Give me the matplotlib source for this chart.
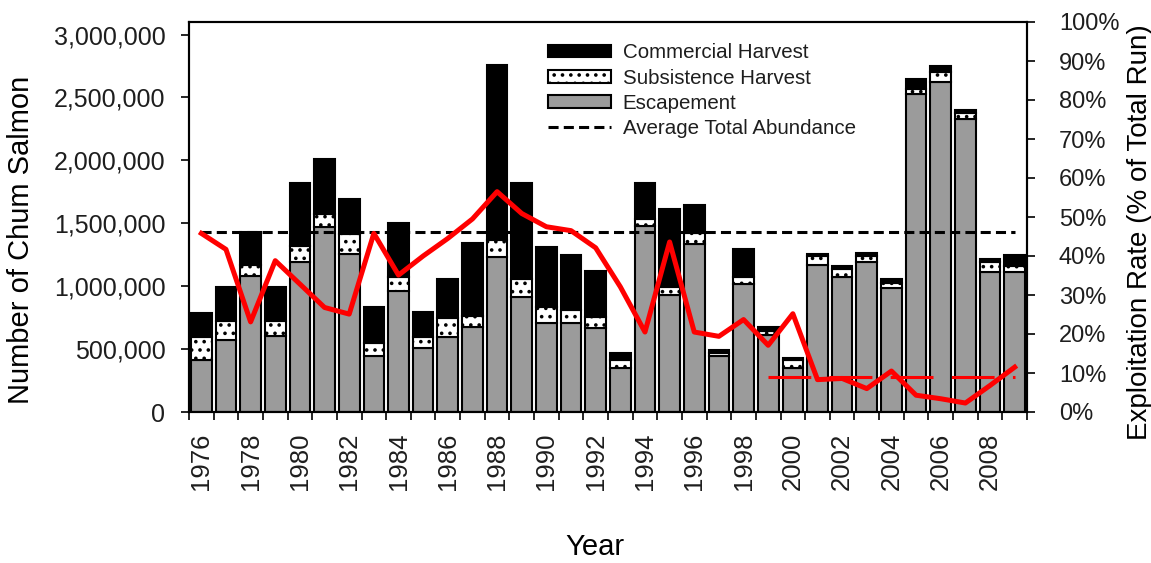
import matplotlib
matplotlib.use("Agg")
import matplotlib.pyplot as plt
import numpy as np
from matplotlib.ticker import FuncFormatter

plt.rcParams['font.family'] = ['Liberation Sans', 'DejaVu Sans']
plt.rcParams['hatch.linewidth'] = 1.4
plt.rcParams['text.color'] = '#1e1e1e'
plt.rcParams['xtick.labelcolor'] = '#1e1e1e'
plt.rcParams['ytick.labelcolor'] = '#1e1e1e'

# Run reconstruction, chum salmon, 1976-2009
years = list(range(1976, 2010))
escapement = [412000, 572000, 1082000, 604000, 1194000, 1471000, 1255000, 444000,
              965000, 505000, 598000, 678000, 1229000, 918000, 710000, 710000,
              665000, 346000, 1476000, 928000, 1335000, 444000, 1016000, 612000,
              346000, 1170000, 1077000, 1189000, 984000, 2527000, 2625000, 2327000,
              1109000, 1112000]
subsistence = [186000, 151000, 88000, 119000, 122000, 103000, 160000, 107000,
               112000, 93000, 147000, 85000, 141000, 138000, 122000, 101000,
               93000, 66000, 61000, 69000, 88000, 27000, 61000, 32000,
               66000, 67000, 59000, 48000, 45000, 39000, 74000, 48000,
               80000, 45000]
commercial = [187000, 269000, 263000, 269000, 506000, 439000, 279000, 281000,
              426000, 200000, 311000, 580000, 1391000, 766000, 477000, 436000,
              359000, 59000, 285000, 617000, 226000, 21000, 218000, 29000,
              19000, 21000, 26000, 26000, 27000, 80000, 48000, 24000,
              26000, 93000]
exploitation_rate = [45.8, 41.7, 23.1, 38.8, 32.8, 26.8, 25.1, 45.8, 35.1, 40.0,
                     44.5, 49.5, 56.5, 50.9, 47.5, 46.5, 42.1, 32.1, 20.5, 43.6,
                     20.5, 19.4, 23.7, 17.1, 25.2, 8.3, 8.6, 6.0, 10.5, 4.3,
                     3.4, 2.3, 6.8, 11.5]
average_total = 1430000
recent_rate_years = [1999, 2009]
recent_rate = [9.0, 9.0]
year_labels = [str(y) for y in range(1976, 2010, 2)]

esc = np.array(escapement)
sub = np.array(subsistence)
com = np.array(commercial)

fig = plt.figure(figsize=(11.51, 5.63), dpi=100)
ax = fig.add_axes([189 / 1151, 1 - 412 / 563, 838 / 1151, 390 / 563])

bw = 0.84
h_esc = ax.bar(years, esc, width=bw, color='#9b9b9b', edgecolor='black',
               linewidth=1.5, label='Escapement')
h_sub = ax.bar(years, sub, bottom=esc, width=bw, color='white', edgecolor='black',
               linewidth=1.5, hatch='..', label='Subsistence Harvest')
h_com = ax.bar(years, com, bottom=esc + sub, width=bw, color='black',
               edgecolor='black', linewidth=1.5, label='Commercial Harvest')
h_avg, = ax.plot([years[0], years[-1]], [average_total, average_total], color='black',
                 lw=2.2, ls=(0, (3.3, 1.7)), label='Average Total Abundance')

ax.set_xlim(1975.5, 2009.5)
ax.set_ylim(0, 3100000)
ax.set_yticks(np.arange(0, 3000001, 500000))
ax.yaxis.set_major_formatter(FuncFormatter(lambda v, p: f'{v:,.0f}'))
ax.set_xticks(np.arange(1975.5, 2010, 1.0))
ax.set_xticklabels([])
ax.set_xticks(range(1976, 2010, 2), minor=True)
ax.set_xticklabels(year_labels, minor=True, rotation=90)
ax.tick_params(axis='x', which='major', length=6, width=1.2, direction='out')
ax.tick_params(axis='x', which='minor', length=0, pad=15, labelsize=18.5)
ax.tick_params(axis='y', length=6, width=1.2, pad=11, labelsize=18)
for s in ax.spines.values():
    s.set_linewidth(1.5)

ax.legend(handles=[h_com, h_sub, h_esc, h_avg],
          labels=['Commercial Harvest', 'Subsistence Harvest', 'Escapement',
                  'Average Total Abundance'],
          loc='upper left', bbox_to_anchor=(0.428, 0.945), frameon=False,
          fontsize=14.8, handlelength=3.1, handleheight=0.55, labelspacing=0.3,
          handletextpad=0.55, borderpad=0, borderaxespad=0)

ax2 = ax.twinx()
ax2.plot(years, exploitation_rate, color='#ff0000', lw=3.6, solid_joinstyle='round')
ax2.plot(recent_rate_years, recent_rate, color='#ff0000', lw=2.2, ls=(0, (14, 6)))
ax2.set_ylim(0, 100)
ax2.set_yticks(np.arange(0, 101, 10))
ax2.yaxis.set_major_formatter(FuncFormatter(lambda v, p: f'{v:.0f}%'))
ax2.tick_params(axis='y', length=6, width=1.2, pad=17, labelsize=17)
for s in ax2.spines.values():
    s.set_linewidth(1.5)

ax.set_ylabel('Number of Chum Salmon', fontsize=21, va='center')
ax.yaxis.set_label_coords(-0.2005, 0.441)
ax2.set_ylabel('Exploitation Rate (% of Total Run)', fontsize=20, va='center')
ax2.yaxis.set_label_coords(1.135, 0.46)
ax.set_xlabel('Year', fontsize=21, va='center')
ax.xaxis.set_label_coords(0.4845, -0.346)

fig.savefig('out.png', dpi=100)
